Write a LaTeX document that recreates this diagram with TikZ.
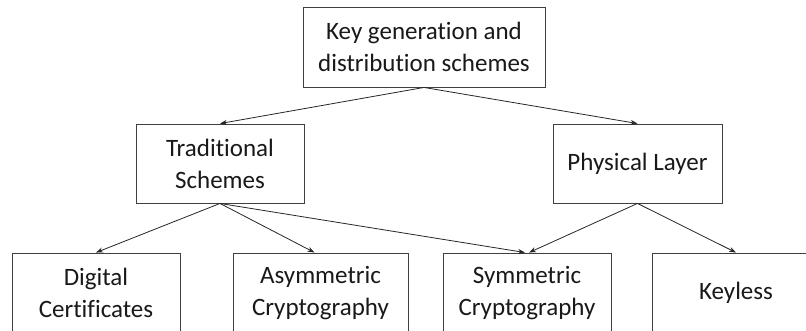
\documentclass[tikz,border=0pt]{standalone}
\usepackage{fontspec}
\setmainfont{Carlito}[Ligatures=NoCommon]
\usetikzlibrary{arrows.meta}
\begin{document}
\begin{tikzpicture}[x=1pt,y=-1pt,
  box/.style={draw=black!75, line width=0.9pt, fill=white, align=center,
    text=black!90, inner sep=0pt,
    font=\fontsize{25}{32}\selectfont},
  link/.style={draw=black!85, line width=0.8pt,
    -{Stealth[length=7pt,width=5pt]}}]
  \useasboundingbox (0,0) rectangle (806,331);
  \clip (0,0) rectangle (806,331);
  % top level
  \node[box, minimum width=242pt, minimum height=80pt] (root) at (424,47)
    {Key generation and\\distribution schemes};
  % second level
  \node[box, minimum width=168pt, minimum height=79pt] (trad) at (220,163.5)
    {Traditional\\Schemes};
  \node[box, minimum width=169pt, minimum height=79pt] (phys) at (637.5,163.5)
    {Physical Layer};
  % third level
  \node[box, minimum width=168pt, minimum height=80pt] (digi) at (96,293)
    {Digital\\Certificates};
  \node[box, minimum width=175pt, minimum height=80pt] (asym) at (320.5,293)
    {Asymmetric\\Cryptography};
  \node[box, minimum width=168pt, minimum height=80pt] (sym) at (527,293)
    {Symmetric\\Cryptography};
  \node[box, minimum width=168pt, minimum height=80pt] (keyl) at (736,293)
    {Keyless};
  % connectors
  \draw[link] (root.south) -- (trad.north);
  \draw[link] (root.south) -- (phys.north);
  \draw[link] (trad.south) -- (digi.north);
  \draw[link] (trad.south) -- ([xshift=-6pt]asym.north);
  \draw[link] (trad.south) -- ([xshift=-2pt]sym.north);
  \draw[link] (phys.south) -- ([xshift=2pt]sym.north);
  \draw[link] (phys.south) -- (keyl.north);
\end{tikzpicture}
\end{document}
